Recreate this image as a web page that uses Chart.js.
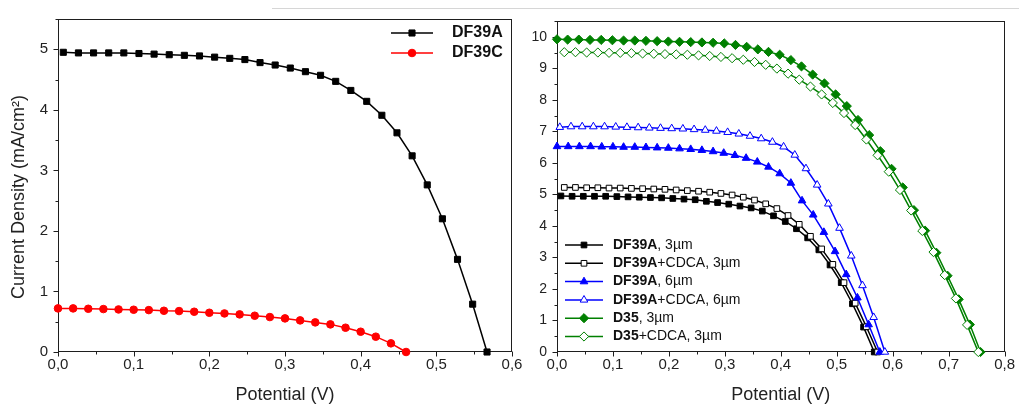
<!DOCTYPE html>
<html><head><meta charset="utf-8">
<script src="https://cdn.jsdelivr.net/npm/chart.js@4.4.1/dist/chart.umd.min.js"></script>
<style>
html,body{margin:0;padding:0;background:#fff;width:1019px;height:407px;overflow:hidden;}
#c1{position:absolute;left:0;top:0;width:530px;height:407px;}
#c2{position:absolute;left:515px;top:0;width:504px;height:407px;}
#sep{position:absolute;left:272px;top:8px;width:747px;height:1px;background:#d6d6d6;}
</style></head><body>
<div id="sep"></div>
<canvas id="c1" width="530" height="407"></canvas>
<canvas id="c2" width="504" height="407"></canvas>
<script>
// ---------- data ----------
const vDF39A = [0.007,0.027,0.047,0.067,0.087,0.107,0.127,0.147,0.167,0.187,0.207,0.227,0.247,0.267,0.287,0.307,0.327,0.347,0.367,0.387,0.408,0.428,0.448,0.468,0.488,0.508,0.528,0.548,0.567];
const jDF39A = [4.95,4.94,4.94,4.94,4.94,4.93,4.92,4.91,4.90,4.89,4.87,4.85,4.83,4.78,4.74,4.69,4.63,4.57,4.47,4.32,4.14,3.91,3.62,3.24,2.76,2.20,1.53,0.79,0];

const vDF39C = [0,0.02,0.04,0.06,0.08,0.10,0.12,0.14,0.16,0.18,0.20,0.22,0.24,0.26,0.28,0.30,0.32,0.34,0.36,0.38,0.40,0.42,0.44,0.46];
const jDF39C = [0.72,0.72,0.714,0.709,0.703,0.698,0.692,0.681,0.676,0.665,0.648,0.637,0.621,0.599,0.577,0.555,0.522,0.489,0.456,0.401,0.335,0.253,0.143,0];

const vDF39A_CDCA3 = [0.013,0.033,0.053,0.073,0.093,0.113,0.133,0.153,0.173,0.193,0.213,0.233,0.253,0.273,0.293,0.313,0.333,0.353,0.373,0.393,0.413,0.433,0.453,0.473,0.493,0.513,0.533,0.553,0.573];
const jDF39A_CDCA3 = [5.22,5.22,5.21,5.21,5.20,5.20,5.19,5.18,5.17,5.16,5.14,5.12,5.10,5.07,5.03,4.98,4.91,4.82,4.70,4.55,4.33,4.05,3.67,3.27,2.78,2.20,1.55,0.80,0];

const vDF39A6 = [0.000,0.020,0.040,0.060,0.080,0.100,0.119,0.139,0.159,0.179,0.199,0.219,0.239,0.259,0.279,0.298,0.318,0.338,0.358,0.378,0.398,0.418,0.438,0.458,0.477,0.497,0.517,0.537,0.557,0.577];
const jDF39A6 = [6.52,6.52,6.52,6.52,6.51,6.51,6.50,6.50,6.49,6.48,6.47,6.45,6.43,6.40,6.36,6.31,6.24,6.15,6.03,5.87,5.66,5.36,4.80,4.35,3.80,3.19,2.46,1.72,0.87,0];

const vDF39A_CDCA6 = [0.005,0.025,0.045,0.065,0.085,0.105,0.125,0.145,0.165,0.185,0.205,0.225,0.245,0.265,0.285,0.305,0.325,0.345,0.365,0.385,0.405,0.425,0.445,0.465,0.485,0.505,0.526,0.546,0.566,0.586];
const jDF39A_CDCA6 = [7.13,7.15,7.15,7.15,7.15,7.14,7.13,7.12,7.11,7.10,7.09,7.08,7.06,7.04,7.01,6.97,6.92,6.85,6.77,6.66,6.51,6.25,5.82,5.30,4.70,3.93,3.05,2.11,1.10,0];

const vD35 = [0.000,0.019,0.039,0.059,0.079,0.099,0.119,0.139,0.159,0.179,0.199,0.219,0.239,0.259,0.279,0.299,0.319,0.339,0.359,0.378,0.398,0.418,0.437,0.457,0.478,0.498,0.518,0.538,0.558,0.578,0.598,0.618,0.638,0.658,0.678,0.698,0.718,0.738,0.757];
const jD35 = [9.92,9.91,9.91,9.90,9.90,9.89,9.88,9.88,9.87,9.86,9.85,9.84,9.83,9.82,9.81,9.79,9.74,9.68,9.60,9.52,9.43,9.26,9.06,8.80,8.52,8.17,7.80,7.36,6.88,6.37,5.81,5.22,4.50,3.85,3.15,2.42,1.67,0.87,0];

const vD35_CDCA = [0.013,0.033,0.053,0.073,0.093,0.113,0.133,0.153,0.173,0.193,0.213,0.233,0.253,0.273,0.293,0.313,0.333,0.353,0.373,0.393,0.413,0.433,0.453,0.473,0.493,0.513,0.533,0.553,0.573,0.593,0.613,0.633,0.653,0.673,0.693,0.713,0.733,0.753];
const jD35_CDCA = [9.51,9.51,9.50,9.50,9.49,9.49,9.48,9.47,9.46,9.45,9.44,9.43,9.41,9.39,9.36,9.32,9.27,9.20,9.11,8.99,8.83,8.64,8.42,8.17,7.90,7.58,7.20,6.74,6.24,5.72,5.14,4.49,3.84,3.17,2.44,1.70,0.86,0];

const xTicksLeft = [0,0.1,0.2,0.3,0.4,0.5,0.6];
const xLabelsLeft = ['0,0','0,1','0,2','0,3','0,4','0,5','0,6'];
const yTicksLeft = [0,1,2,3,4,5];
const xTicksRight = [0,0.1,0.2,0.3,0.4,0.5,0.6,0.7,0.8];
const xLabelsRight = ['0,0','0,1','0,2','0,3','0,4','0,5','0,6','0,7','0,8'];
const yTicksRight = [0,1,2,3,4,5,6,7,8,9,10];

const legendLeft = [
  {bold:'DF39A', rest:'', color:'#000000', style:'rect', fill:'#000000', r:4.3},
  {bold:'DF39C', rest:'', color:'#ff0000', style:'circle', fill:'#ff0000', r:3.8}
];
const legendRight = [
  {bold:'DF39A', rest:', 3\u00b5m', color:'#000000', style:'rect', fill:'#000000', r:4},
  {bold:'DF39A', rest:'+CDCA, 3\u00b5m', color:'#000000', style:'rect', fill:'#ffffff', r:4},
  {bold:'DF39A', rest:', 6\u00b5m', color:'#0000ff', style:'triangle', fill:'#0000ff', r:4.4},
  {bold:'DF39A', rest:'+CDCA, 6\u00b5m', color:'#0000ff', style:'triangle', fill:'#ffffff', r:4.4},
  {bold:'D35', rest:', 3\u00b5m', color:'#008000', style:'rectRot', fill:'#008000', r:4.6},
  {bold:'D35', rest:'+CDCA, 3\u00b5m', color:'#008000', style:'rectRot', fill:'#ffffff', r:4.6}
];

// ---------- helpers ----------
const FONT = '"Liberation Sans", Arial, sans-serif';
function pts(xs, ys){ return xs.map((v,i)=>({x:v, y:ys[i]})); }
function ds(label, xs, ys, color, style, fill, r, order){
  return {label, data:pts(xs,ys), showLine:true, borderColor:color, borderWidth:1.5,
    pointStyle:style, pointRadius:r, pointHoverRadius:r, pointBackgroundColor:fill,
    pointBorderColor:color, pointBorderWidth:1, clip:false, order:order, tension:0};
}

const frameTicks = {
  id:'frameTicks',
  beforeDatasetsDraw(chart, args, o){
    const {ctx, chartArea:a, scales:{x,y}} = chart;
    ctx.save();
    ctx.strokeStyle = '#1e1e1e'; ctx.lineWidth = 1;
    const L = Math.round(a.left)+0.5, R = Math.round(a.right)-0.5, T = Math.round(a.top)+0.5, B = Math.round(a.bottom)-0.5;
    ctx.strokeRect(L, T, R-L, B-T);
    const nx = Math.round((x.max - x.min)/o.minorX);
    for(let i=0;i<=nx;i++){
      const px = Math.round(x.getPixelForValue(x.min + i*o.minorX)) + 0.5;
      const len = i%2===0 ? 5 : 3;
      ctx.beginPath(); ctx.moveTo(px, B); ctx.lineTo(px, B+len); ctx.stroke();
    }
    const ny = Math.floor((y.max - y.min)/o.minorY + 1e-6);
    for(let i=0;i<=ny;i++){
      const py = Math.round(y.getPixelForValue(y.min + i*o.minorY)) + 0.5;
      const len = i%2===0 ? 5 : 3;
      ctx.beginPath(); ctx.moveTo(L, py); ctx.lineTo(L-len, py); ctx.stroke();
    }
    if(o.yTitle){
      ctx.translate(o.yTitle.x, o.yTitle.y);
      ctx.rotate(-Math.PI/2);
      ctx.fillStyle = '#222'; ctx.font = '18px ' + FONT;
      ctx.textAlign = 'center'; ctx.textBaseline = 'middle';
      ctx.fillText(o.yTitle.text, 0, 0);
    }
    ctx.restore();
  },
  afterDatasetsDraw(chart, args, o){
    const {ctx} = chart;
    const lg = o.legend;
    ctx.save();
    lg.items.forEach((it, i) => {
      const yy = lg.y + i*lg.dy;
      ctx.strokeStyle = it.color; ctx.lineWidth = 1.5;
      ctx.beginPath(); ctx.moveTo(lg.x0, yy); ctx.lineTo(lg.x1, yy); ctx.stroke();
      ctx.fillStyle = it.fill; ctx.strokeStyle = it.color; ctx.lineWidth = 1;
      Chart.helpers.drawPoint(ctx, {pointStyle:it.style, radius:it.r, rotation:0, borderWidth:1}, (lg.x0+lg.x1)/2, yy);
      ctx.fillStyle = '#111'; ctx.textBaseline = 'middle'; ctx.textAlign = 'left';
      ctx.font = 'bold ' + lg.size + 'px ' + FONT;
      ctx.fillText(it.bold, lg.tx, yy);
      const w = ctx.measureText(it.bold).width;
      ctx.font = lg.size + 'px ' + FONT;
      if(it.rest) ctx.fillText(it.rest, lg.tx + w, yy);
    });
    ctx.restore();
  }
};

function makeScales(xmin, xmax, xt, xl, ymin, ymax, yt, yw, xFont, yFont){
  return {
    x:{type:'linear', min:xmin, max:xmax,
       afterBuildTicks:s=>{ s.ticks = xt.map(v=>({value:v})); },
       afterFit:s=>{ s.height = 55; },
       grid:{display:false, drawTicks:false}, border:{display:false},
       ticks:{padding:4, color:'#222', font:{family:FONT, size:xFont}, maxRotation:0, autoSkip:false,
              callback:(v,i)=>xl[i]},
       title:{display:true, text:'Potential (V)', color:'#222', font:{family:FONT, size:18}, padding:{top:0,bottom:1}}},
    y:{type:'linear', min:ymin, max:ymax,
       afterBuildTicks:s=>{ s.ticks = yt.map(v=>({value:v})); },
       afterFit:s=>{ s.width = yw; },
       grid:{display:false, drawTicks:false}, border:{display:false},
       ticks:{padding:10, color:'#222', font:{family:FONT, size:yFont}, autoSkip:false,
              callback:(v,i)=>String(yt[i])}}
  };
}

Chart.defaults.animation = false;

new Chart(document.getElementById('c1'), {
  type:'scatter',
  data:{datasets:[
    ds('DF39A', vDF39A, jDF39A, '#000000', 'rect', '#000000', 4.3, 1),
    ds('DF39C', vDF39C, jDF39C, '#ff0000', 'circle', '#ff0000', 3.8, 0)
  ]},
  options:{responsive:false, devicePixelRatio:1, animation:false,
    layout:{padding:{left:0, top:18, right:18, bottom:0}},
    scales:makeScales(0, 0.6, xTicksLeft, xLabelsLeft, 0, 5.5, yTicksLeft, 58, 15, 15),
    plugins:{legend:{display:false}, tooltip:{enabled:false},
      frameTicks:{minorX:0.05, minorY:0.5,
        yTitle:{x:19, y:197, text:'Current Density (mA/cm\u00b2)'},
        legend:{items:legendLeft, x0:391, x1:433, tx:452, y:33, dy:20, size:16}}}
  },
  plugins:[frameTicks]
});

new Chart(document.getElementById('c2'), {
  type:'scatter',
  data:{datasets:[
    ds('DF39A, 3µm', vDF39A, jDF39A, '#000000', 'rect', '#000000', 4, 5),
    ds('DF39A+CDCA, 3µm', vDF39A_CDCA3, jDF39A_CDCA3, '#000000', 'rect', '#ffffff', 4, 4),
    ds('DF39A, 6µm', vDF39A6, jDF39A6, '#0000ff', 'triangle', '#0000ff', 4.4, 3),
    ds('DF39A+CDCA, 6µm', vDF39A_CDCA6, jDF39A_CDCA6, '#0000ff', 'triangle', '#ffffff', 4.4, 2),
    ds('D35, 3µm', vD35, jD35, '#008000', 'rectRot', '#008000', 4.6, 1),
    ds('D35+CDCA, 3µm', vD35_CDCA, jD35_CDCA, '#008000', 'rectRot', '#ffffff', 4.6, 0)
  ]},
  options:{responsive:false, devicePixelRatio:1, animation:false,
    layout:{padding:{left:0, top:21, right:12, bottom:0}},
    scales:makeScales(0, 0.8, xTicksRight, xLabelsRight, 0, 10.5, yTicksRight, 42, 15, 14),
    plugins:{legend:{display:false}, tooltip:{enabled:false},
      frameTicks:{minorX:0.05, minorY:0.5,
        legend:{items:legendRight, x0:50, x1:88, tx:98, y:245, dy:18.3, size:14}}}
  },
  plugins:[frameTicks]
});
</script>
</body></html>
